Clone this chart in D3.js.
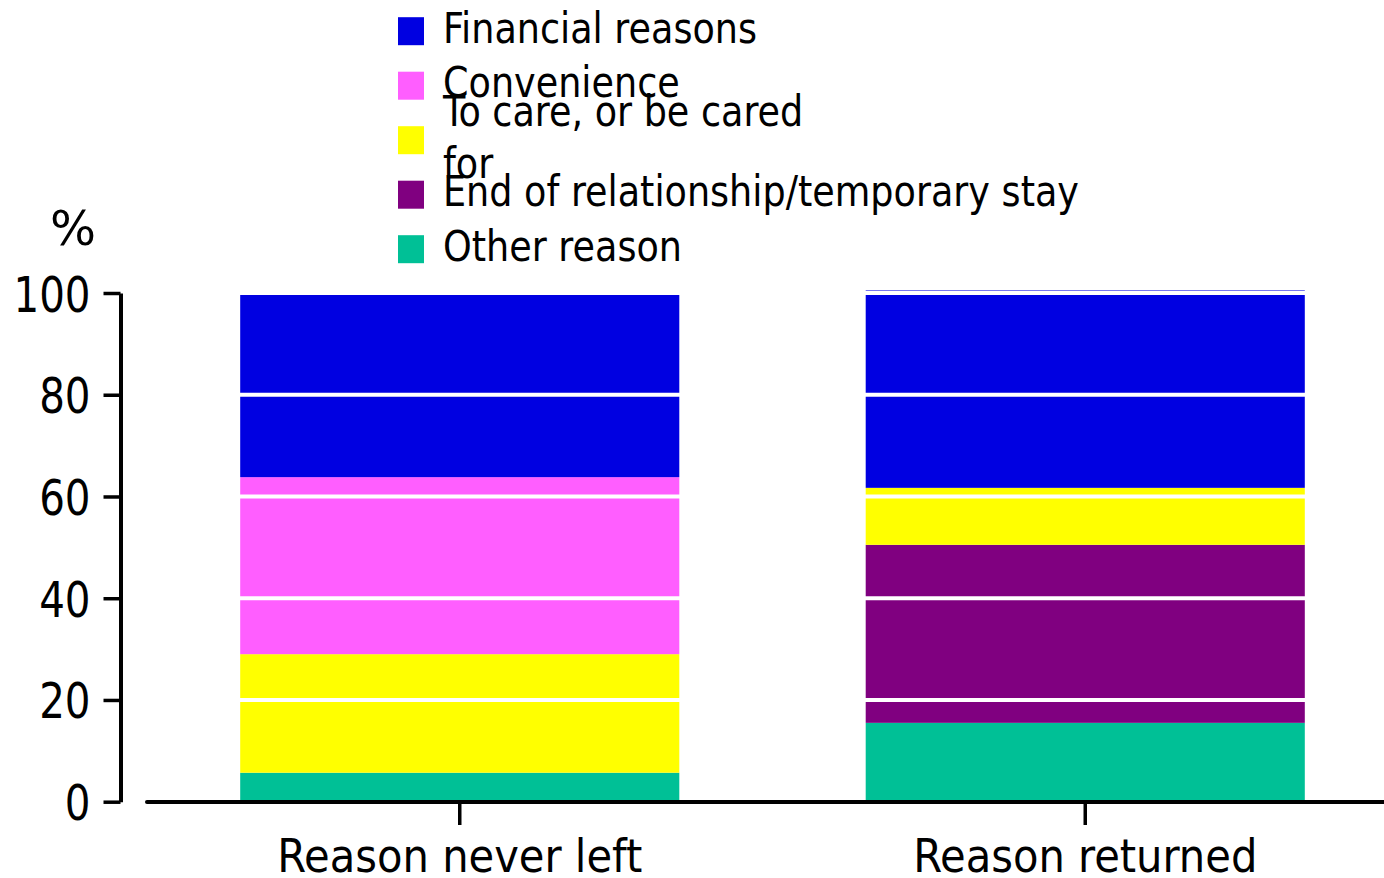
<!DOCTYPE html>
<html>
<head>
<meta charset="utf-8">
<script src="https://cdn.jsdelivr.net/npm/d3@7"></script>
<style>
  html, body { margin: 0; padding: 0; background: #ffffff; }
  svg { display: block; }
  text { font-family: "DejaVu Sans Condensed", "DejaVu Sans", sans-serif; fill: #000; }
</style>
</head>
<body>
<svg id="chart" width="1384" height="878"></svg>
<script>
// ---- Data ----
const categories = ["Reason never left", "Reason returned"];
// stack order, bottom to top
const seriesKeys = ["other", "endRel", "care", "convenience", "financial"];
const otherReason = [5.7, 15.5];
const endOfRelationship = [0, 35.0];
const toCare = [23.3, 11.2];
const convenience = [34.8, 0];
const financialReasons = [36.2, 38.8];
const yTickValues = [0, 20, 40, 60, 80, 100];
const yAxisLabel = "%";
// legend order, top to bottom
const legendKeys = ["financial", "convenience", "care", "endRel", "other"];
const legendLines = [
  ["Financial reasons"],
  ["Convenience"],
  ["To care, or be cared", "for"],
  ["End of relationship/temporary stay"],
  ["Other reason"]
];
const colors = {
  financial: "#0000e1",
  convenience: "#ff5eff",
  care: "#ffff00",
  endRel: "#800080",
  other: "#00c096"
};

// ---- Table built from arrays ----
const table = categories.map((c, i) => ({
  category: c,
  other: otherReason[i],
  endRel: endOfRelationship[i],
  care: toCare[i],
  convenience: convenience[i],
  financial: financialReasons[i]
}));

const svg = d3.select("#chart");

const x = d3.scaleBand()
  .domain(categories)
  .range([147, 1398])
  .paddingInner(0.298)
  .paddingOuter(0.149);

const y = d3.scaleLinear()
  .domain([0, 100])
  .range([801.7, 293.0]);

const stacked = d3.stack().keys(seriesKeys)(table);

// ---- Bars ----
const gBars = svg.append("g");
gBars.selectAll("g.series")
  .data(stacked)
  .join("g")
  .attr("class", "series")
  .attr("fill", d => colors[d.key])
  .selectAll("rect")
  .data(d => d)
  .join("rect")
  .attr("x", d => x(d.data.category))
  .attr("width", x.bandwidth())
  .attr("y", d => y(d[1]))
  .attr("height", d => Math.max(0, y(d[0]) - y(d[1])));

// ---- White gridlines over bars ----
svg.append("g")
  .selectAll("line")
  .data(yTickValues.filter(v => v > 0))
  .join("line")
  .attr("x1", 147)
  .attr("x2", 1384)
  .attr("y1", d => y(d))
  .attr("y2", d => y(d))
  .attr("stroke", "#ffffff")
  .attr("stroke-width", 4);

// ---- Y axis ----
const yAxis = svg.append("g")
  .attr("transform", "translate(120.5,0)")
  .call(d3.axisLeft(y).tickValues(yTickValues).tickSize(17).tickSizeOuter(0).tickPadding(13));
yAxis.select(".domain").attr("stroke", "#000").attr("stroke-width", 4);
yAxis.selectAll(".tick line").attr("stroke", "#000").attr("stroke-width", 3.5);
yAxis.selectAll(".tick text")
  .attr("font-size", 50)
  .attr("font-family", "'DejaVu Sans Condensed', 'DejaVu Sans', sans-serif")
  .attr("fill", "#000")
  .attr("dy", "0.36em");

// ---- X axis ----
const xAxis = svg.append("g")
  .attr("transform", "translate(0,802)")
  .call(d3.axisBottom(x).tickSize(23).tickSizeOuter(0));
xAxis.select(".domain").remove();
xAxis.append("line")
  .attr("x1", 147).attr("x2", 1384)
  .attr("y1", 0).attr("y2", 0)
  .attr("stroke", "#000").attr("stroke-width", 4)
  .attr("stroke-linecap", "round");
xAxis.selectAll(".tick line").attr("stroke", "#000").attr("stroke-width", 3.5);
xAxis.selectAll(".tick text")
  .attr("font-size", 47)
  .attr("font-family", "'DejaVu Sans Condensed', 'DejaVu Sans', sans-serif")
  .attr("fill", "#000")
  .attr("y", 70)
  .attr("dy", 0);

// compress x labels to Tahoma-like width
{
  const texts = xAxis.selectAll(".tick text").nodes();
  const ref = texts[0].getComputedTextLength();
  const k = 365 / ref;
  texts.forEach(t => {
    const w = t.getComputedTextLength();
    t.setAttribute("textLength", w * k);
    t.setAttribute("lengthAdjust", "spacingAndGlyphs");
  });
}
// compress y tick labels
{
  const texts = yAxis.selectAll(".tick text").nodes();
  const ref = texts[texts.length - 1].getComputedTextLength();
  const k = 77 / ref;
  texts.forEach(t => {
    const w = t.getComputedTextLength();
    t.setAttribute("textLength", w * k);
    t.setAttribute("lengthAdjust", "spacingAndGlyphs");
  });
}

// ---- % label ----
svg.append("text")
  .attr("x", 73)
  .attr("y", 245)
  .attr("text-anchor", "middle")
  .attr("font-size", 48)
  .attr("textLength", 46)
  .attr("lengthAdjust", "spacingAndGlyphs")
  .text(yAxisLabel);

// ---- Legend ----
const legend = svg.append("g");
const rowStart = 31.2, rowStep = 54.5, lineGap = 52.4;
const legendItems = legend.selectAll("g.item")
  .data(legendKeys.map((k, i) => ({ key: k, lines: legendLines[i], i })))
  .join("g")
  .attr("class", "item")
  .attr("transform", d => `translate(0,${rowStart + d.i * rowStep})`);

legendItems.append("rect")
  .attr("x", 398).attr("y", -14)
  .attr("width", 26).attr("height", 28)
  .attr("fill", d => colors[d.key]);

legendItems.each(function(d) {
  const g = d3.select(this);
  const n = d.lines.length;
  d.lines.forEach((line, j) => {
    g.append("text")
      .attr("x", 443)
      .attr("y", 11.5 + (j - (n - 1) / 2) * lineGap)
      .attr("font-size", 43)
      .text(line);
  });
});
{
  const texts = legend.selectAll("text").nodes();
  const ref = texts[0].getComputedTextLength();
  const k = 314 / ref;
  texts.forEach(t => {
    const w = t.getComputedTextLength();
    t.setAttribute("textLength", w * k);
    t.setAttribute("lengthAdjust", "spacingAndGlyphs");
  });
}
</script>
</body>
</html>
